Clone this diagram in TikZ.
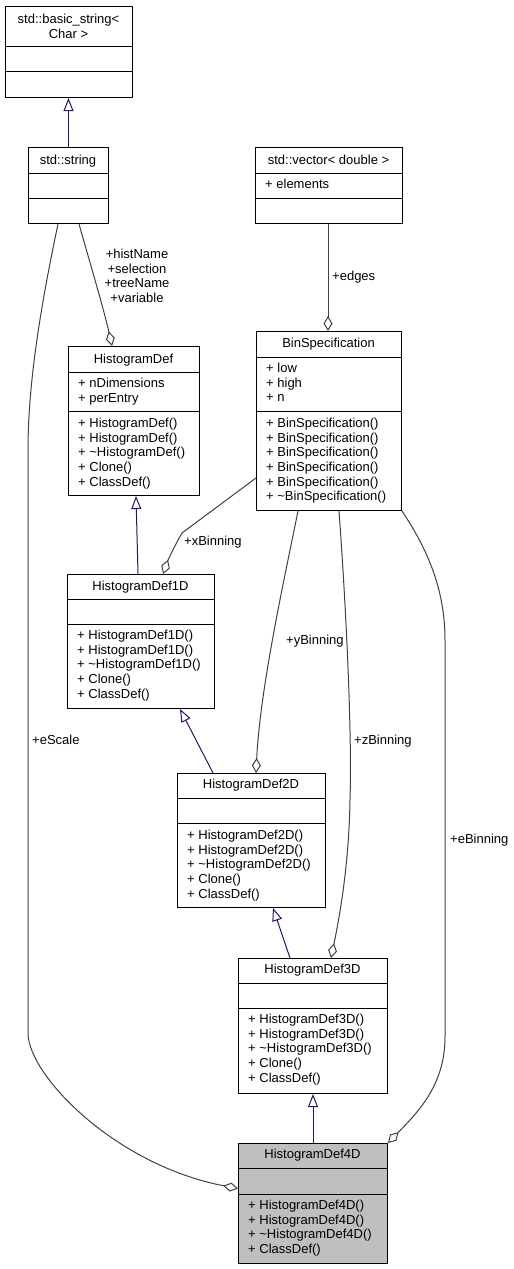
\documentclass[tikz,border=0pt]{standalone}
\usepackage{fontspec}
\setmainfont{Liberation Sans}
\usetikzlibrary{arrows.meta,calc}
\definecolor{edgegray}{HTML}{404040}
\definecolor{inhblue}{HTML}{191970}
\definecolor{hilite}{HTML}{BFBFBF}
\tikzset{
  cls/.style={draw=black, line width=1pt, inner sep=0pt, anchor=north west},
  txt/.style={inner sep=0pt, font=\fontsize{13}{15}\selectfont},
  divider/.style={draw=black, line width=1pt},
  inh/.style={draw=inhblue, line width=1pt, -{Triangle[open, length=13pt, width=10pt]}},
  assoc/.style={draw=edgegray, line width=1pt, -{Diamond[open, length=15pt, width=9pt]}},
  elabel/.style={txt, anchor=base west},
}
\newcommand{\mlines}[4]{%
  \foreach \t [count=\i from 0] in {#4} {\node[txt, anchor=base west] (#1\i) at (#2, {#3+\i*14.65}) {\t};}}
\newcommand{\clsbox}[8]{% name, x1, y1, x2, y2, div1, div2, fill
  \node[cls, fill=#8, minimum width={(#4-#2)*1pt}, minimum height={(#5-#3)*1pt}] (#1) at (#2,#3) {};
  \draw[divider] (#2,#6) -- (#4,#6);
  \draw[divider] (#2,#7) -- (#4,#7);}
\begin{document}
\begin{tikzpicture}[x=1pt, y=-1pt]
\useasboundingbox (0,0) rectangle (514,1269);

% std::basic_string< Char >
\clsbox{bs}{5}{6}{132}{97}{46}{71}{white}
\node[txt, anchor=base] (bst1) at (68.5,23) {std::basic\_string<};
\node[txt, anchor=base] (bst2) at (68.5,38) {Char >};

% std::string
\clsbox{str}{28}{147}{108}{223}{173}{198}{white}
\node[txt, anchor=base] (strt) at (68,164) {std::string};

% std::vector< double >
\clsbox{vec}{255}{147}{402}{223}{173}{198}{white}
\node[txt, anchor=base] (vect) at (328.5,164) {std::vector< double >};
\node[txt, anchor=base west] (veca) at (265,188) {+ elements};

% BinSpecification
\clsbox{bin}{256}{331}{401}{510}{357}{411}{white}
\node[txt, anchor=base] (bint) at (328.5,347.3) {BinSpecification};
\mlines{bina}{266}{372.6}{+ low,+ high,+ n}
\mlines{binm}{266}{427.6}{+ BinSpecification(),+ BinSpecification(),+ BinSpecification(),+ BinSpecification(),+ BinSpecification(),+ \textasciitilde BinSpecification()}

% HistogramDef
\clsbox{hd}{68}{346}{199}{495}{372}{411}{white}
\node[txt, anchor=base] (hdt) at (133.5,363) {HistogramDef};
\mlines{hda}{78}{387.6}{+ nDimensions,+ perEntry}
\mlines{hdm}{78}{427.6}{+ HistogramDef(),+ HistogramDef(),+ \textasciitilde HistogramDef(),+ Clone(),+ ClassDef()}

% HistogramDef1D
\clsbox{ha}{67}{574}{214}{708}{599}{624}{white}
\node[txt, anchor=base] (hat) at (140.5,590.6) {HistogramDef1D};
\mlines{ham}{77}{639.6}{+ HistogramDef1D(),+ HistogramDef1D(),+ \textasciitilde HistogramDef1D(),+ Clone(),+ ClassDef()}

% HistogramDef2D
\clsbox{hb}{177}{773}{325}{907}{798}{823}{white}
\node[txt, anchor=base] (hbt) at (251,788.6) {HistogramDef2D};
\mlines{hbm}{187}{839.6}{+ HistogramDef2D(),+ HistogramDef2D(),+ \textasciitilde HistogramDef2D(),+ Clone(),+ ClassDef()}

% HistogramDef3D
\clsbox{hc}{238}{958}{387}{1093}{983}{1008}{white}
\node[txt, anchor=base] (hct) at (312.5,973.6) {HistogramDef3D};
\mlines{hcm}{248}{1023.6}{+ HistogramDef3D(),+ HistogramDef3D(),+ \textasciitilde HistogramDef3D(),+ Clone(),+ ClassDef()}

% HistogramDef4D
\clsbox{hx}{238}{1143}{387}{1263}{1168}{1194}{hilite}
\node[txt, anchor=base] (hxt) at (312.5,1158.6) {HistogramDef4D};
\mlines{hxm}{248}{1209.6}{+ HistogramDef4D(),+ HistogramDef4D(),+ \textasciitilde HistogramDef4D(),+ ClassDef()}

% inheritance
\draw[inh] (str.north) -- (str.north |- bs.south);
\draw[inh] ([xshift=71pt]ha.north west) -- ([xshift=68pt]hd.south west);
\draw[inh] ([xshift=36pt]hb.north west) -- ([xshift=113pt]ha.south west);
\draw[inh] ([xshift=52pt]hc.north west) -- ([xshift=96pt]hb.south west);
\draw[inh] (hx.north) -- (hc.south);

% associations
\draw[assoc] (vec.south -| 328,0) -- (bin.north -| 328,0);
\node[elabel] (ledges) at (332,280.6) {+edges};

\draw[assoc] ([xshift=51pt]str.south west) .. controls (92,270) and (104,310) .. ([xshift=44pt]hd.north west);
\foreach \l [count=\i from 0] in {+histName,+selection,+treeName,+variable}
  {\node[txt, anchor=base] (lstr\i) at (137,{258.6+\i*14.5}) {\l};}

\draw[assoc] ([yshift=-147pt]bin.north west) -- (182,533) .. controls (175,545) and (168,560) .. ([xshift=96pt]ha.north west);
\node[elabel] (lxb) at (184,545.6) {+xBinning};

\draw[assoc] ([xshift=42pt]bin.south west) .. controls (283,585) and (260,690) .. ([xshift=79pt]hb.north west);
\node[elabel] (lyb) at (286,644.6) {+yBinning};

\draw[assoc] ([xshift=83pt]bin.south west) .. controls (347,620) and (352,740) .. (350,800) .. controls (349,860) and (341,910) .. ([xshift=93pt]hc.north west);
\node[elabel] (lzb) at (354,744.6) {+zBinning};

\draw[assoc] (bin.south east) .. controls (428,550) and (445,590) .. (445,640) -- (445,1037) .. controls (445,1085) and (418,1112) .. (hx.north east);
\node[elabel] (leb) at (450,843.6) {+eBinning};

\draw[assoc] ([xshift=30pt]str.south west) .. controls (42,300) and (28,380) .. (28,450) -- (28,1033) .. controls (28,1075) and (115,1165) .. ([yshift=15pt]hx.west);
\node[elabel] (les) at (32,744.6) {+eScale};
\end{tikzpicture}
\end{document}
